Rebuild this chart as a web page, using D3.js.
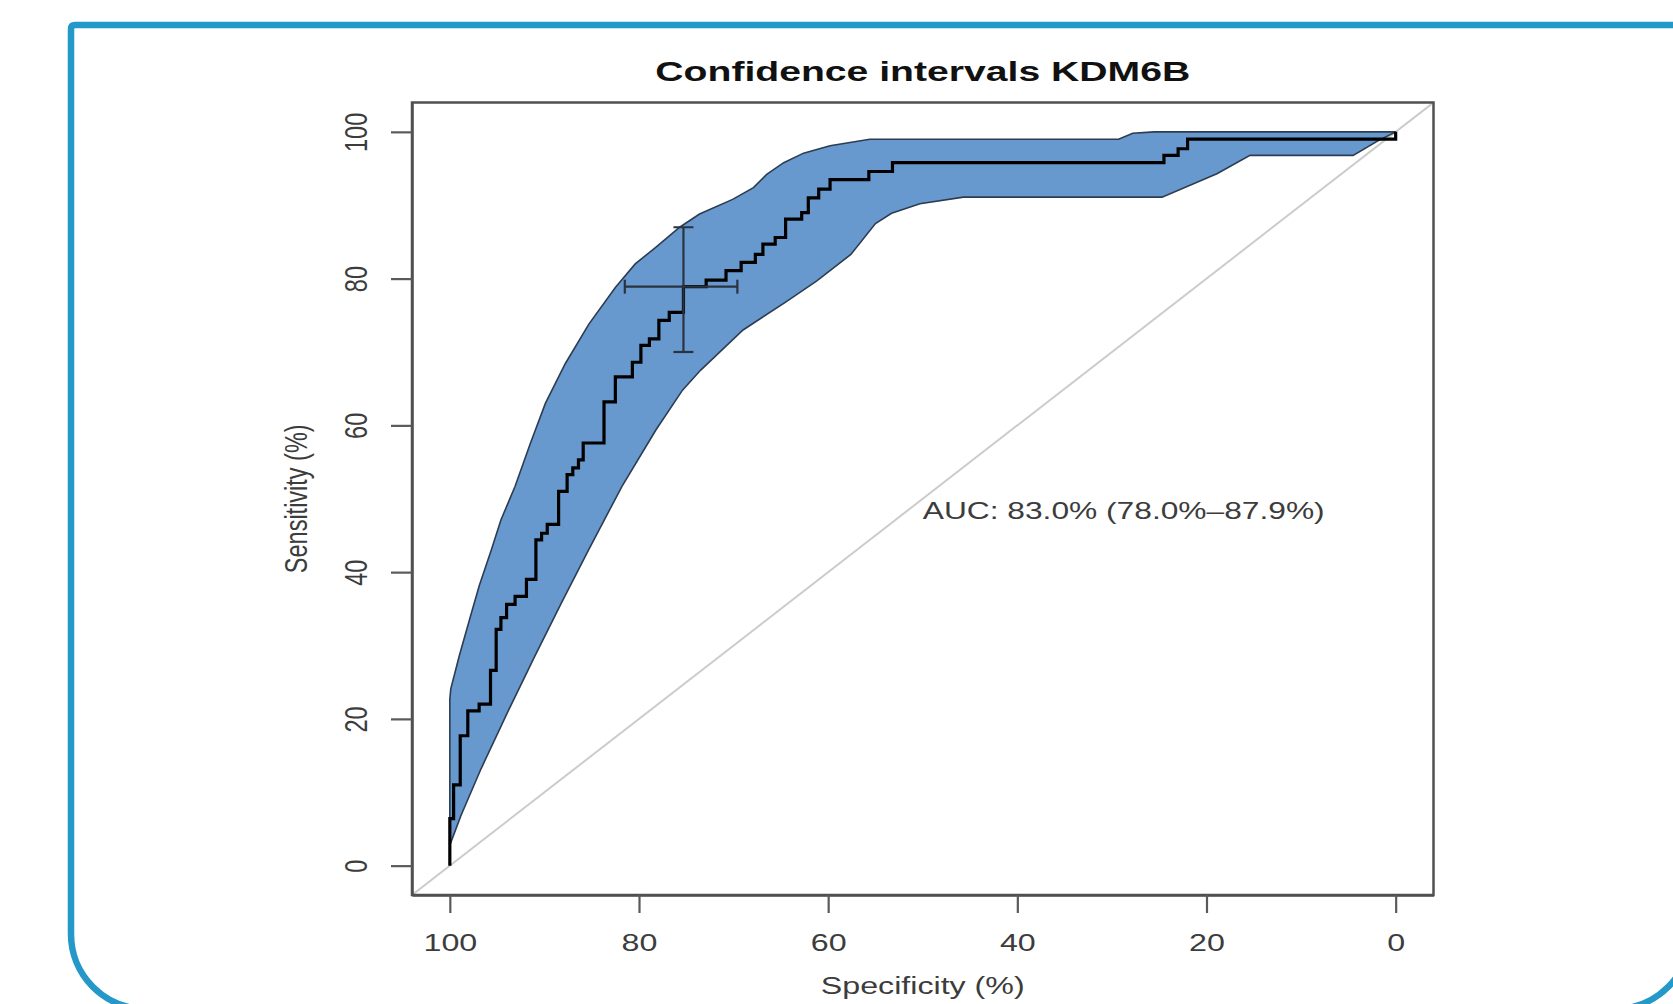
<!DOCTYPE html>
<html>
<head>
<meta charset="utf-8">
<script src="https://cdn.jsdelivr.net/npm/d3@7"></script>
<style>
  html, body { margin: 0; padding: 0; background: #ffffff; }
  svg { display: block; }
  text { font-family: "Liberation Sans", Arial, Helvetica, sans-serif; }
</style>
</head>
<body>
<svg id="chart" width="1673" height="1004"></svg>
<script>
// ---------------- data ----------------
const chartTitle = "Confidence intervals KDM6B";
const xLabel = "Specificity (%)";
const yLabel = "Sensitivity (%)";
const aucLabel = "AUC: 83.0% (78.0%\u201387.9%)";
const aucPosition = [50, 50]; // specificity, sensitivity (text top-left anchor)

const xTicks = [100, 80, 60, 40, 20, 0];
const yTicks = [0, 20, 40, 60, 80, 100];

// ROC curve (step line), specificity / sensitivity in %
const rocSpec = [100,100,99.6,99.6,98.9,98.9,98.1,98.1,96.9,96.9,95.7,95.7,95.1,95.1,94.6,94.6,94.0,94.0,93.1,93.1,
  91.9,91.9,90.9,90.9,90.3,90.3,89.7,89.7,88.5,88.5,87.6,87.6,87.0,87.0,86.4,86.4,85.9,85.9,83.7,83.7,
  82.5,82.5,80.7,80.7,79.8,79.8,78.9,78.9,77.9,77.9,76.8,76.8,75.3,75.3,72.9,72.9,70.8,70.8,69.2,69.2,
  67.7,67.7,66.9,66.9,65.6,65.6,64.5,64.5,62.8,62.8,62.1,62.1,61.0,61.0,59.8,59.8,55.7,55.7,53.2,53.2,
  24.5,24.5,23.0,23.0,22.0,22.0,0,0];
const rocSens = [0,6.4,6.4,11.0,11.0,17.7,17.7,21.1,21.1,22.0,22.0,26.6,26.6,32.2,32.2,33.8,33.8,35.6,35.6,36.7,
  36.7,39.0,39.0,44.4,44.4,45.3,45.3,46.5,46.5,51.0,51.0,53.3,53.3,54.2,54.2,55.3,55.3,57.6,57.6,63.2,
  63.2,66.6,66.6,68.6,68.6,70.9,70.9,71.8,71.8,74.3,74.3,75.4,75.4,78.9,78.9,79.8,79.8,81.1,81.1,82.2,
  82.2,83.3,83.3,84.7,84.7,85.6,85.6,88.1,88.1,89.0,89.0,91.0,91.0,92.2,92.2,93.5,93.5,94.6,94.6,95.8,
  95.8,96.8,96.8,97.7,97.7,99.0,99.0,100];

// Confidence band of sensitivity (upper and lower edges)
const ciUpperSpec = [100,99.9,99.0,97.9,96.9,95.6,94.6,93.1,91.5,89.9,87.8,85.3,82.5,80.4,78.2,75.7,73.6,70.1,67.9,66.5,64.7,62.6,59.8,55.6,29.3,27.8,25.5,0];
const ciUpperSens = [22.7,24.1,28.6,33.6,38.1,43.1,47.1,51.7,57.5,63.0,68.4,73.8,78.8,82.0,84.3,87.0,88.8,90.8,92.4,94.2,95.8,97.1,98.1,99.0,99.0,99.8,100,100];
const ciLowerSpec = [100,98.8,96.7,93.9,91.0,88.2,85.3,81.8,78.2,75.4,73.5,69.0,64.5,61.2,57.6,55.0,53.3,50.3,45.7,24.7,18.9,15.4,4.5,1.7,0];
const ciLowerSens = [2.8,6.9,13.2,20.9,28.6,35.8,43.1,51.7,59.4,64.8,67.5,73.0,76.8,79.7,83.3,87.5,88.9,90.2,91.1,91.1,94.3,96.8,96.8,98.9,100];

// Best threshold point with its confidence intervals
const bestSpec = 75.3, bestSens = 78.9;
const bestSpecCI = [69.6, 81.5];
const bestSensCI = [70.0, 87.0];

// ---------------- drawing ----------------
const svg = d3.select("#chart");
const SX = 1.37; // horizontal stretch of the original raster

const plot = { left: 412, right: 1433.5, top: 102.5, bottom: 895 };
const x = d3.scaleLinear().domain([104, -4]).range([plot.left, plot.right]);
const y = d3.scaleLinear().domain([-4, 104]).range([plot.bottom, plot.top]);

// outer blue frame (square-ish top, large rounded bottom corners)
const fr = { l: 71, t: 25, r: 1690, b: 1009, rb: 75, rt: 4 };
svg.append("path")
  .attr("d", `M${fr.r},${fr.t} L${fr.l + fr.rt},${fr.t} Q${fr.l},${fr.t} ${fr.l},${fr.t + fr.rt}
    L${fr.l},${fr.b - fr.rb} A${fr.rb},${fr.rb} 0 0 0 ${fr.l + fr.rb},${fr.b}
    L${fr.r - fr.rb},${fr.b} A${fr.rb},${fr.rb} 0 0 0 ${fr.r},${fr.b - fr.rb} Z`)
  .attr("fill", "none")
  .attr("stroke", "#2398c9")
  .attr("stroke-width", 6.5);

svg.append("clipPath").attr("id", "plotclip")
  .append("rect")
  .attr("x", plot.left).attr("y", plot.top)
  .attr("width", plot.right - plot.left).attr("height", plot.bottom - plot.top);

const g = svg.append("g").attr("clip-path", "url(#plotclip)");

// identity diagonal
g.append("line")
  .attr("x1", x(104)).attr("y1", y(-4))
  .attr("x2", x(-4)).attr("y2", y(104))
  .attr("stroke", "#cccccc").attr("stroke-width", 2);

// CI band
const bandPts = ciUpperSpec.map((s, i) => [s, ciUpperSens[i]])
  .concat(ciLowerSpec.map((s, i) => [s, ciLowerSens[i]]).reverse());
g.append("path")
  .datum(bandPts)
  .attr("d", d3.line().x(d => x(d[0])).y(d => y(d[1])).curve(d3.curveLinearClosed))
  .attr("fill", "#6799cf")
  .attr("stroke", "#2d3c50")
  .attr("stroke-width", 1.6);

// ROC curve
const rocPts = rocSpec.map((s, i) => [s, rocSens[i]]);
g.append("path")
  .datum(rocPts)
  .attr("d", d3.line().x(d => x(d[0])).y(d => y(d[1])))
  .attr("fill", "none")
  .attr("stroke", "#000")
  .attr("stroke-width", 3.2)
  .attr("stroke-linejoin", "miter");

// threshold cross with CIs
const eb = g.append("g").attr("stroke", "#2a3340").attr("stroke-width", 2.2).attr("fill", "none");
eb.append("line").attr("x1", x(bestSpec)).attr("x2", x(bestSpec)).attr("y1", y(bestSensCI[0])).attr("y2", y(bestSensCI[1]));
bestSensCI.forEach(v => eb.append("line").attr("x1", x(bestSpec) - 10).attr("x2", x(bestSpec) + 10).attr("y1", y(v)).attr("y2", y(v)));
eb.append("line").attr("y1", y(bestSens)).attr("y2", y(bestSens)).attr("x1", x(bestSpecCI[0])).attr("x2", x(bestSpecCI[1]));
bestSpecCI.forEach(v => eb.append("line").attr("y1", y(bestSens) - 7).attr("y2", y(bestSens) + 7).attr("x1", x(v)).attr("x2", x(v)));

// plot box
svg.append("rect")
  .attr("x", plot.left).attr("y", plot.top)
  .attr("width", plot.right - plot.left).attr("height", plot.bottom - plot.top)
  .attr("fill", "none").attr("stroke", "#505050").attr("stroke-width", 2.5);

// axes
const labelColor = "#3c3c3c";
const xAxis = svg.append("g")
  .attr("transform", `translate(0,${plot.bottom})`)
  .call(d3.axisBottom(x).tickValues(xTicks).tickSize(18).tickSizeOuter(0).tickPadding(0));
xAxis.select(".domain").attr("stroke", "#505050").attr("stroke-width", 2.5);
xAxis.selectAll(".tick line").attr("stroke", "#5a5a5a").attr("stroke-width", 2.2);
xAxis.selectAll(".tick text")
  .attr("y", 56).attr("dy", null)
  .attr("transform", `scale(${SX},1)`)
  .attr("font-size", 23.5).attr("fill", labelColor)
  .style("font-family", "'Liberation Sans', Arial, sans-serif");

const yAxis = svg.append("g")
  .attr("transform", `translate(${plot.left},0)`)
  .call(d3.axisLeft(y).tickValues(yTicks).tickSize(21).tickSizeOuter(0).tickPadding(0));
yAxis.select(".domain").attr("stroke", "#505050").attr("stroke-width", 2.5);
yAxis.selectAll(".tick line").attr("stroke", "#5a5a5a").attr("stroke-width", 2.2);
yAxis.selectAll(".tick text")
  .attr("x", null).attr("dy", null)
  .attr("text-anchor", "middle")
  .attr("transform", `translate(-45.5,0) scale(${SX},1) rotate(-90)`)
  .attr("font-size", 23.5).attr("fill", labelColor)
  .style("font-family", "'Liberation Sans', Arial, sans-serif");

// title
svg.append("text")
  .attr("transform", `translate(${(plot.left + plot.right) / 2},81) scale(1.45,1)`)
  .attr("text-anchor", "middle")
  .attr("font-size", 27).attr("font-weight", "bold").attr("fill", "#111")
  .text(chartTitle);

// axis titles
svg.append("text")
  .attr("transform", `translate(${(plot.left + plot.right) / 2},994) scale(${SX},1)`)
  .attr("text-anchor", "middle")
  .attr("font-size", 23.5).attr("fill", labelColor)
  .text(xLabel);

svg.append("text")
  .attr("transform", `translate(307,${(plot.top + plot.bottom) / 2}) scale(${SX},1) rotate(-90)`)
  .attr("text-anchor", "middle")
  .attr("font-size", 23.5).attr("fill", labelColor)
  .text(yLabel);

// AUC annotation (top-left anchored at aucPosition)
svg.append("text")
  .attr("transform", `translate(${x(aucPosition[0])},${y(aucPosition[1]) + 20.5}) scale(1.35,1)`)
  .attr("text-anchor", "start")
  .attr("font-size", 23.5).attr("fill", labelColor)
  .text(aucLabel);
</script>
</body>
</html>
